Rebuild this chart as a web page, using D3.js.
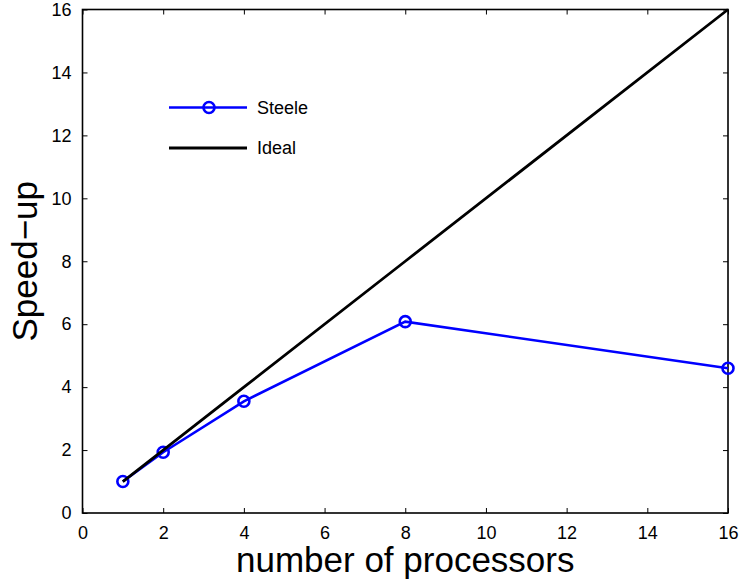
<!DOCTYPE html>
<html>
<head>
<meta charset="utf-8">
<script src="https://cdn.jsdelivr.net/npm/d3@7"></script>
<style>
  body { margin: 0; background: #fff; }
  svg { font-family: "Liberation Sans", Arial, Helvetica, sans-serif; }
  .axis path { display: none; }
  .axis line { stroke: #000; stroke-width: 1; }
  .axis text { font-size: 18px; fill: #000; }
</style>
</head>
<body>
<svg class="speedup" width="741" height="586"></svg>
<script>
const procs = [1, 2, 4, 8, 16];
const steele = [1, 1.93, 3.55, 6.08, 4.6];
const ideal = [1, 2, 4, 8, 16];
const xTicks = [0, 2, 4, 6, 8, 10, 12, 14, 16];
const yTicks = [0, 2, 4, 6, 8, 10, 12, 14, 16];

const svg = d3.select("svg.speedup");
const margin = { top: 9.5, right: 13, bottom: 73, left: 82.5 };
const width = +svg.attr("width") - margin.left - margin.right;
const height = +svg.attr("height") - margin.top - margin.bottom;

const x = d3.scaleLinear().domain([0, 16]).range([0, width]);
const y = d3.scaleLinear().domain([0, 16]).range([height, 0]);

const g = svg.append("g")
    .attr("transform", `translate(${margin.left}, ${margin.top})`);

// ticks point inward on all four sides
g.append("g")
    .attr("class", "x axis")
    .attr("transform", `translate(0, ${height})`)
    .call(d3.axisBottom(x).tickValues(xTicks).tickSizeInner(-5).tickSizeOuter(0).tickPadding(13));

g.append("g")
    .attr("class", "x axis")
    .call(d3.axisTop(x).tickValues(xTicks).tickSizeInner(-5).tickSizeOuter(0).tickFormat(""));

g.append("g")
    .attr("class", "y axis")
    .call(d3.axisLeft(y).tickValues(yTicks).tickSizeInner(-5).tickSizeOuter(0).tickPadding(11));

g.append("g")
    .attr("class", "y axis")
    .attr("transform", `translate(${width}, 0)`)
    .call(d3.axisRight(y).tickValues(yTicks).tickSizeInner(-5).tickSizeOuter(0).tickFormat(""));

g.append("rect")
    .attr("width", width)
    .attr("height", height)
    .attr("fill", "none")
    .attr("stroke", "#000")
    .attr("stroke-width", 1.6);

const line = d3.line()
    .x(d => x(d[0]))
    .y(d => y(d[1]));

const steeleData = procs.map((p, i) => [p, steele[i]]);
const idealData = procs.map((p, i) => [p, ideal[i]]);

g.append("path")
    .datum(steeleData)
    .attr("d", line)
    .attr("fill", "none")
    .attr("stroke", "#0000ff")
    .attr("stroke-width", 2.6);

g.selectAll(".pt")
    .data(steeleData)
    .enter().append("circle")
    .attr("class", "pt")
    .attr("cx", d => x(d[0]))
    .attr("cy", d => y(d[1]))
    .attr("r", 5.5)
    .attr("fill", "none")
    .attr("stroke", "#0000ff")
    .attr("stroke-width", 2.6);

g.append("path")
    .datum(idealData)
    .attr("d", line)
    .attr("fill", "none")
    .attr("stroke", "#000")
    .attr("stroke-width", 2.8);

// legend
const legend = svg.append("g");
legend.append("line")
    .attr("x1", 169).attr("x2", 247).attr("y1", 107.5).attr("y2", 107.5)
    .attr("stroke", "#0000ff").attr("stroke-width", 2.6);
legend.append("circle")
    .attr("cx", 209).attr("cy", 107.5).attr("r", 5.5)
    .attr("fill", "none").attr("stroke", "#0000ff").attr("stroke-width", 2.6);
legend.append("text")
    .attr("x", 257).attr("y", 107.5).attr("dy", "0.35em")
    .attr("font-size", 18).text("Steele");
legend.append("line")
    .attr("x1", 169).attr("x2", 247).attr("y1", 148).attr("y2", 148)
    .attr("stroke", "#000").attr("stroke-width", 2.8);
legend.append("text")
    .attr("x", 257).attr("y", 148).attr("dy", "0.35em")
    .attr("font-size", 18).text("Ideal");

// axis titles
svg.append("text")
    .attr("x", margin.left + width / 2)
    .attr("y", 572)
    .attr("text-anchor", "middle")
    .attr("font-size", 35)
    .text("number of processors");

svg.append("text")
    .attr("transform", `translate(37, ${margin.top + height / 2}) rotate(-90)`)
    .attr("text-anchor", "middle")
    .attr("font-size", 35)
    .text("Speed\u2212up");
</script>
</body>
</html>
